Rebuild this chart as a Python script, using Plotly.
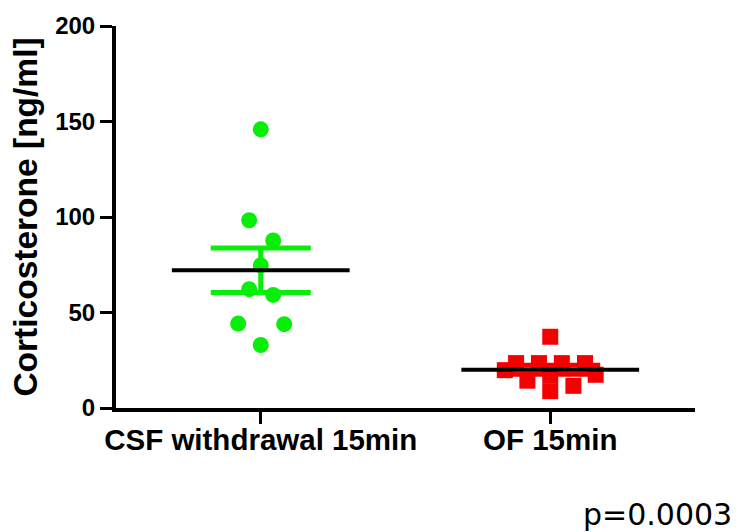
import numpy as np
import plotly.graph_objects as go

categories = ["CSF withdrawal 15min", "OF 15min"]
csf_values = [145.9, 98.3, 87.7, 74.7, 62.2, 59.2, 44.2, 43.9, 33.0]
of_values = [37.3, 19.8, 23.5, 23.5, 23.5, 23.5, 14.3, 8.8, 11.6, 17.4, 17.0]
y_ticks = [0, 50, 100, 150, 200]
y_title = "Corticosterone [ng/ml]"
p_text = "p=0.0003"

# horizontal scatter offsets of the points within each column (category units)
csf_offsets = [0.0, -0.04, 0.043, 0.0, -0.04, 0.043, -0.078, 0.081, 0.0]
of_offsets = [0.0, -0.157, -0.118, -0.039, 0.04, 0.12, -0.079, 0.0, 0.08, 0.157, 0.0]

GREEN = "#08EE08"
RED = "#F50000"
BOLD = "Arial, Liberation Sans, sans-serif"

fig = go.Figure()

groups = [
    (0, csf_values, csf_offsets, GREEN, "circle"),
    (1, of_values, of_offsets, RED, "square"),
]

for idx, vals, offs, col, sym in groups:
    vals = np.array(vals)
    xs = idx + np.array(offs)
    fig.add_trace(go.Scatter(
        x=xs, y=vals, mode="markers",
        marker=dict(color=col, size=16, symbol=sym, line=dict(width=0)),
        showlegend=False, hoverinfo="y", cliponaxis=False,
    ))

for idx, vals, offs, col, sym in groups:
    vals = np.array(vals)
    mean = vals.mean()
    sem = vals.std(ddof=1) / np.sqrt(len(vals))
    # SEM bar
    fig.add_trace(go.Scatter(
        x=[idx], y=[mean], mode="markers",
        marker=dict(size=0.1, color=col, opacity=0),
        error_y=dict(type="data", array=[sem], visible=True,
                     color=col, thickness=5, width=50),
        showlegend=False, hoverinfo="skip",
    ))

for idx, vals, offs, col, sym in groups:
    vals = np.array(vals)
    mean = vals.mean()
    fig.add_trace(go.Scatter(
        x=[idx - 0.307, idx + 0.307], y=[mean, mean], mode="lines",
        line=dict(color="black", width=4),
        showlegend=False, hoverinfo="skip",
    ))

fig.update_layout(
    width=736, height=532,
    margin=dict(l=116, r=41, t=24, b=124),
    paper_bgcolor="white", plot_bgcolor="white",
    xaxis=dict(
        range=[-0.5, 1.5], tickmode="array", tickvals=[0, 1], ticktext=categories,
        showline=True, linecolor="black", linewidth=4,
        ticks="outside", ticklen=12, tickwidth=3, tickcolor="black",
        ticklabelstandoff=-9,
        showgrid=False, zeroline=False,
        tickfont=dict(family=BOLD, size=29.5, color="black", weight="bold"),
    ),
    yaxis=dict(
        range=[0, 200], tickmode="array", tickvals=y_ticks,
        showline=True, linecolor="black", linewidth=4,
        ticks="outside", ticklen=12, tickwidth=3, tickcolor="black",
        showgrid=False, zeroline=False,
        tickfont=dict(family=BOLD, size=24, color="black", weight="bold"),
        title=dict(text=y_title, standoff=8,
                   font=dict(family=BOLD, size=33.5, color="black", weight="bold")),
    ),
    annotations=[dict(
        text=p_text, xref="paper", yref="paper", x=1, y=0,
        xanchor="right", yanchor="middle", xshift=39, yshift=-106,
        showarrow=False,
        font=dict(family="DejaVu Sans", size=30, color="black"),
    )],
)

fig.write_html("out.html", config={"displayModeBar": False},
               post_script="document.body.style.margin='0';document.body.style.padding='0';")
